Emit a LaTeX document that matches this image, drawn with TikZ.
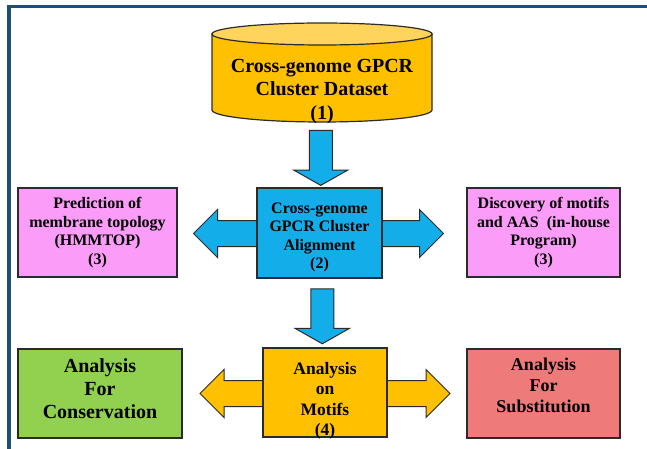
\documentclass[tikz,border=0pt]{standalone}
\usepackage{fontspec}
\setmainfont{Liberation Serif}
\usetikzlibrary{shapes.arrows,calc}
\definecolor{frameblue}{HTML}{1F4E79}
\definecolor{boxline}{HTML}{2B2B2B}
\definecolor{dataorange}{HTML}{FFC000}
\definecolor{datatop}{HTML}{FFD45C}
\definecolor{alignblue}{HTML}{13AEEA}
\definecolor{toolpink}{HTML}{FB9CF8}
\definecolor{consgreen}{HTML}{92D050}
\definecolor{substred}{HTML}{EE7A7A}
\begin{document}
\begin{tikzpicture}[x = 1pt, y = -1pt,
		box/.style = {draw = boxline, line width = 1.6pt, align = center, inner sep = 0pt, text = black},
		midtext/.style = {font = \bfseries\fontsize{16}{18.5}\selectfont},
		downarrow/.style = {single arrow, draw = boxline, line width = 1pt, fill = alignblue, rotate = -90, minimum height = 55pt, single arrow head extend = 15.5pt, single arrow head indent = 0pt, single arrow tip angle = 121, inner sep = 11pt},
		sidearrow/.style = {double arrow, draw = boxline, line width = 1pt, minimum height = 250pt, double arrow head extend = 11pt, double arrow head indent = 0pt, inner sep = 12.5pt}
	]
		\useasboundingbox (0,0) rectangle (647,449);
		\draw[frameblue, line width = 3.8pt] (9,449) -- (9,6.5) -- (647,6.5);
		
		\draw[boxline, line width = 1.2pt, fill = dataorange] (212,34) -- (212,110) arc[start angle = 180, end angle = 0, x radius = 110, y radius = 12] -- (432,34) -- cycle;
		\draw[boxline, line width = 1.2pt, fill = datatop] (322,34) ellipse [x radius = 110, y radius = 11];
		\coordinate (databottom) at (322,122);
		\node[align = center, font = \bfseries\fontsize{20}{23.5}\selectfont] (data) at (322,91.5) {Cross-genome GPCR\\Cluster Dataset\\(1)};
		
		\node[sidearrow, fill = alignblue] (alignarrow) at (318.5,233.5) {};
		\node[box, midtext, fill = alignblue, minimum width = 125pt, minimum height = 90pt, text height = 71pt, text depth = 0pt] (align) at (319.5,233) {Cross-genome\\GPCR Cluster\\Alignment\\(2)};
		\node[box, midtext, fill = toolpink, minimum width = 159pt, minimum height = 89pt] (hmmtop) at (97.5,232.5) {Prediction of\\membrane topology\\(HMMTOP)\\(3)};
		\node[box, midtext, fill = toolpink, minimum width = 153pt, minimum height = 89pt] (motifs) at (543.5,232.5) {Discovery of motifs\\and AAS~~(in-house\\Program)\\(3)};
		
		\node[sidearrow, fill = dataorange] (analysisarrow) at (325,393.5) {};
		\node[box, fill = dataorange, minimum width = 124pt, minimum height = 89pt, text height = 86.7pt, text depth = 0pt, font = \bfseries\fontsize{17.5}{20.5}\selectfont] (analysis) at (325,392.5) {Analysis\\on\\Motifs\\(4)};
		\node[box, fill = consgreen, minimum width = 164pt, minimum height = 89pt, text height = 55pt, text depth = 5pt, font = \bfseries\fontsize{20}{23}\selectfont] (conserv) at (100,393.5) {Analysis\\For\\Conservation};
		\node[box, fill = substred, minimum width = 153pt, minimum height = 89pt, text height = 50pt, text depth = 11.4pt, font = \bfseries\fontsize{18}{21}\selectfont] (subst) at (543.5,393.5) {Analysis\\For\\Substitution};
		
		\node[downarrow] (down1) at ($(databottom)!0.5!(align.north)$) {};
		\node[downarrow] (down2) at ($(align.south)!0.5!(analysis.north)$) {};
	\end{tikzpicture}
\end{document}
